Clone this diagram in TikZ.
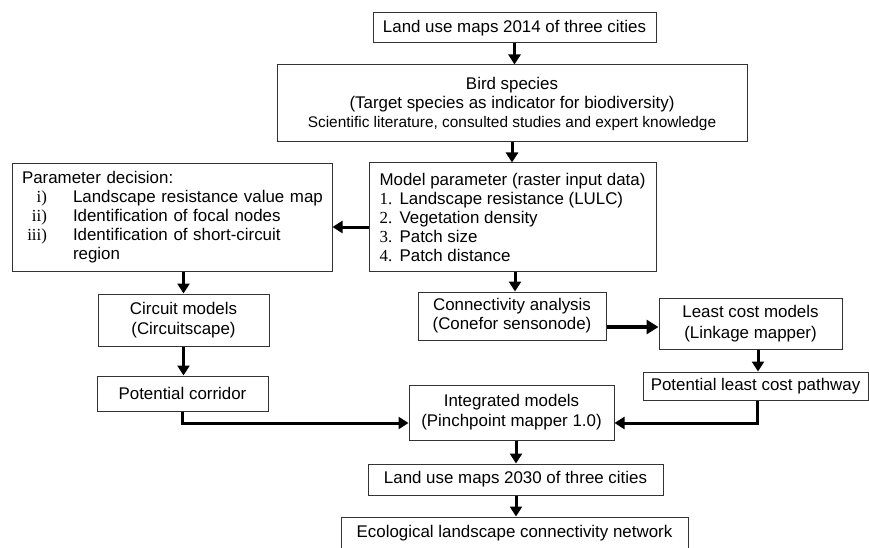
\documentclass[tikz,border=0pt]{standalone}
\usepackage{fontspec}
\setmainfont{Liberation Sans}
\newfontfamily\serifnum{Liberation Serif}
\usetikzlibrary{arrows.meta}
\newcommand\mnum[1]{\makebox[20pt][l]{\serifnum #1}}
\newcommand\rnum[1]{\makebox[25pt][r]{\serifnum #1}\hspace{26pt}}
\begin{document}
\begin{tikzpicture}[x=1pt,y=-1pt,
  box/.style={draw=black!80, line width=1pt, inner sep=0pt,
    font=\fontsize{16.9}{20}\selectfont, align=center},
  arr/.style={line width=3pt, -{Triangle[length=10pt,width=12pt]}},
  thickarr/.style={line width=4.5pt, -{Triangle[length=12pt,width=14pt]}}]
\useasboundingbox (0,0) rectangle (869,548);
\begin{scope}
\clip (0,0) rectangle (869,548);
\coordinate (y227) at (0,227);
\coordinate (y327) at (0,327);
\coordinate (y423) at (0,423);

\node[box, minimum width=283, minimum height=30] (lu14) at (514.5,28)
  {Land use maps 2014 of three cities};
\node[box, minimum width=470, minimum height=77, font=\fontsize{16.9}{19}\selectfont] (bird) at (512,103.5)
  {Bird species\\(Target species as indicator for biodiversity)\\
   {\fontsize{15.4}{19}\selectfont Scientific literature, consulted studies and expert knowledge}};
\node[box, minimum width=287, minimum height=108, align=left, font=\fontsize{16.9}{19}\selectfont] (model) at (512.5,217)
  {Model parameter (raster input data)\\
   \mnum{1.}Landscape resistance (LULC)\\
   \mnum{2.}Vegetation density\\
   \mnum{3.}Patch size\\
   \mnum{4.}Patch distance};
\node[box, minimum width=320, minimum height=108, text width=300pt, align=left, font=\fontsize{16.9}{19}\selectfont] (param) at (172,217.5)
  {\mbox{Parameter decision:}\\
   \mbox{\rnum{i)}Landscape resistance value map}\\
   \mbox{\rnum{ii)}Identification of focal nodes}\\
   \mbox{\rnum{iii)}Identification of short-circuit}\\
   \mbox{\hspace*{51pt}region}};
\node[box, minimum width=171, minimum height=52] (circ) at (183.5,320)
  {Circuit models\\(Circuitscape)};
\node[box, minimum width=171, minimum height=35] (corr) at (182.5,393.5)
  {Potential corridor};
\node[box, minimum width=188, minimum height=48, font=\fontsize{16.9}{19}\selectfont] (conn) at (512,316)
  {Connectivity analysis\\(Conefor sensonode)};
\node[box, minimum width=183, minimum height=51, font=\fontsize{16.9}{21}\selectfont] (least) at (750.5,323.5)
  {Least cost models\\(Linkage mapper)};
\node[box, minimum width=225, minimum height=28] (path) at (755.5,386)
  {Potential least cost pathway};
\node[box, minimum width=205, minimum height=55] (integ) at (511.5,412.5)
  {Integrated models\\(Pinchpoint mapper 1.0)};
\node[box, minimum width=295, minimum height=31] (lu30) at (515.5,479.5)
  {Land use maps 2030 of three cities};
\node[box, minimum width=347, minimum height=33] (eco) at (514.5,533.5)
  {Ecological landscape connectivity network};

\draw[arr] (lu14.south) -- (bird.north -| lu14.south);
\draw[arr] (bird.south) -- (model.north -| bird.south);
\draw[arr] (model.west |- y227) -- (param.east |- y227);
\draw[arr] (param.south -| circ.north) -- (circ.north);
\draw[arr] (model.south -| 515,0) -- (conn.north -| 515,0);
\draw[arr] (circ.south) -- (corr.north -| circ.south);
\draw[thickarr] (conn.east |- y327) -- (least.west |- y327);
\draw[arr] (least.south -| 758,0) -- (path.north -| 758,0);
\draw[arr] (corr.south) |- (integ.west |- y423);
\draw[arr] (path.south -| 757,0) |- (integ.east |- y423);
\draw[arr] (integ.south -| 516,0) -- (lu30.north -| 516,0);
\draw[arr] (lu30.south -| 516,0) -- (eco.north -| 516,0);
\end{scope}
\end{tikzpicture}
\end{document}
